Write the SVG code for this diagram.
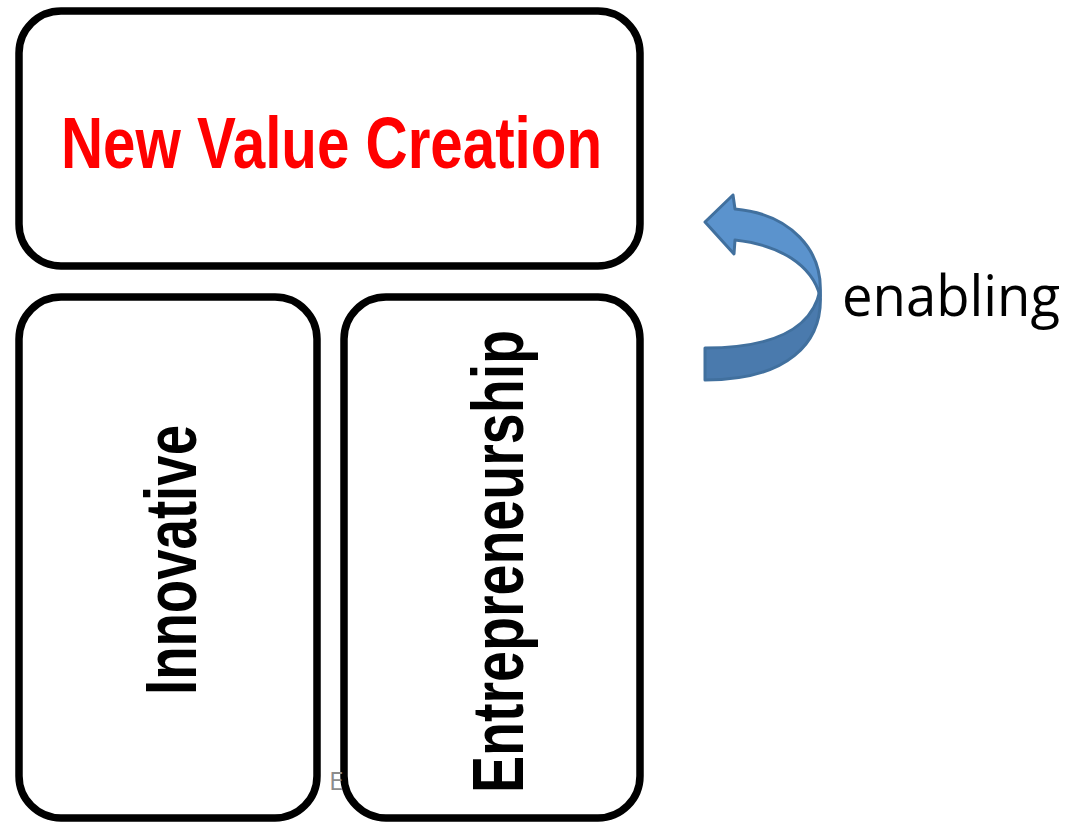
<svg xmlns="http://www.w3.org/2000/svg" width="1068" height="825" viewBox="0 0 1068 825">
<style>
.box{fill:#fff;stroke:#000;stroke-width:7.5}
.bold{font-family:"Liberation Sans",Arial,sans-serif;font-weight:bold}
</style>
<rect width="1068" height="825" fill="#fff"/>
<g id="node-new-value">
<rect class="box" x="19" y="11" width="621" height="255" rx="42" ry="42"/>
<text class="bold" x="61" y="168" font-size="73" fill="#ff0000" textLength="541" lengthAdjust="spacingAndGlyphs">New Value Creation</text>
</g>
<g id="node-innovative">
<rect class="box" x="19" y="297" width="298" height="521" rx="42" ry="42"/>
<text class="bold" transform="translate(196,695) rotate(-90)" x="0" y="0" font-size="72" fill="#000" textLength="270" lengthAdjust="spacingAndGlyphs">Innovative</text>
</g>
<g id="node-entrepreneurship">
<rect class="box" x="344" y="297" width="296" height="521" rx="42" ry="42"/>
<text class="bold" transform="translate(523,793) rotate(-90)" x="0" y="0" font-size="73" fill="#000" textLength="463" lengthAdjust="spacingAndGlyphs">Entrepreneurship</text>
</g>
<text x="329" y="790" font-family="Open Sans, sans-serif" font-size="26" fill="#8c8c8c">E</text>
<g id="connectors">
<path d="M820,290 C825,345 785,380 705,380 L705,348 C770,348 812,330 820,290 Z" fill="#4a7aad" stroke="#41709e" stroke-width="3" stroke-linejoin="round"/>
<path d="M733,195 L705,222 L734,254 L735,240 C780,245 812,265 820,296 C824,250 790,214 735,209 Z" fill="#5b93cd" stroke="#41709e" stroke-width="3" stroke-linejoin="round"/>
</g>
<g id="node-enabling">
<text x="842" y="316" font-family="Open Sans, sans-serif" font-size="56" fill="#000" textLength="218" lengthAdjust="spacingAndGlyphs">enabling</text>
</g>
</svg>
